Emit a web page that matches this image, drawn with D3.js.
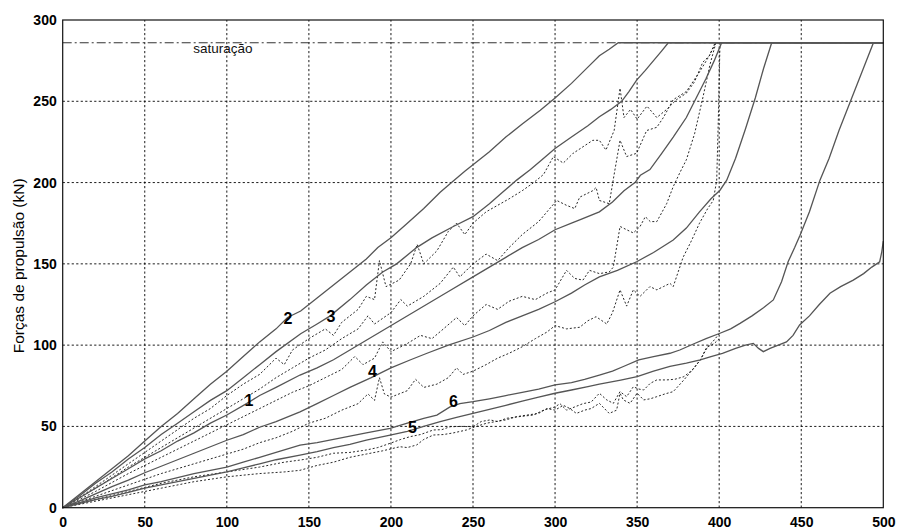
<!DOCTYPE html>
<html><head><meta charset="utf-8">
<script src="https://cdn.jsdelivr.net/npm/d3@7"></script>
<style>body{margin:0;background:#fff}svg{display:block}</style>
</head><body><svg id="c" width="897" height="531"></svg>
<script>
// ---- data ----
const xTicks=[0,50,100,150,200,250,300,350,400,450,500];
const yTicks=[0,50,100,150,200,250,300];
const saturationLevel=286;
const saturationText="saturação";
const yTitle="Forças de propulsão (kN)";
const curveLabels=[
 {t:"1",x:113.5,y:66.3},{t:"2",x:137.3,y:116.7},{t:"3",x:163.5,y:117.5},
 {t:"4",x:188.8,y:83.8},{t:"5",x:213.1,y:49.8},{t:"6",x:238.1,y:65.3}];

// solid curves
const solid2=[[0,0],[10,8],[20,16],[30,24],[40,32],[50,41],[60,50],[70,58],[80,67],[90,76],[100,84],[110,93],[120,102],[130,110],[137,117],[145,121],[155,129],[165,137],[175,145],[185,153],[192,160],[200,166],[210,175],[220,184],[230,194],[238,201],[245,207],[250,211],[260,219],[270,228],[280,236],[291,244.5],[300,252],[310,261],[320,271],[327,278],[333,282],[338.5,286],[500,286]];
const solid3=[[0,0],[10,7],[20,15],[30,22],[40,30],[50,37],[60,45],[70,52],[80,59],[90,66],[100,72],[110,80],[120,88],[130,96],[145,107],[155,113],[163,118],[175,128],[185,137],[195,145],[203.5,150],[215.6,160],[225,166],[238,173],[250,179],[260,187],[268,194],[276.6,201.5],[285,208],[292,214],[300,221],[310,228],[320,235],[327,240.5],[334,245],[340.6,250],[345,256],[349.7,263],[355,269],[360,275],[365,281],[369,286],[500,286]];
const solid1=[[0,0],[10,6],[20,12],[30,18],[40,24],[50,30],[60,35],[70,41],[80,46],[90,52],[100,57],[112,64],[120,69],[130,74],[144.6,81.6],[155,86],[165,91],[175,97],[185,103],[195,109],[205,115],[215,121],[225,127],[235,133],[250,142],[260,148],[270,154],[280,160],[290,165],[300,171],[310,175],[315,177],[327,182],[335,188],[342,195],[348.7,200],[352,204.5],[357.8,208],[365,218],[372,228],[380,240],[386,252],[392,264],[397,275],[401.5,286],[500,286]];
const solid4=[[0,0],[10,4],[20,8.5],[30,13],[40,17],[50,21.5],[60,25.5],[70,29.5],[80,33.5],[90,37.5],[100,41.5],[110,45],[120,49.5],[130,53],[144.6,59],[155,64],[165,69],[175,74],[188,80],[200,86],[212,91],[222,95],[235,100],[250,105],[260,109],[270,114],[280,118],[290,122],[300,126.7],[310,132],[318,137],[327,142],[338,146],[349.7,151.3],[360,157],[372,164.7],[380,172],[388,182],[395,190],[400.5,195.3],[404.6,201.5],[410,215],[416,233],[422,252],[427,270],[432,286],[500,286]];
const solid6=[[0,0],[10,3],[20,6],[30,8.5],[40,11],[50,14],[60,16],[70,18.5],[80,21],[90,23],[100,25],[110,28],[120,31],[130,34],[144.6,38.5],[155,40],[165,42],[175,44],[185,46],[199.5,48.8],[210,52],[220,55],[228,57],[236,62],[242,64],[250,65.2],[260,67],[270,69],[280,71],[290,73],[300,75.5],[310,77],[318,79],[327,81.6],[335,84],[342,87],[351,90.9],[360,93],[370,95],[376,97],[385,101],[392,104],[400.5,107.3],[407,110],[412.7,113.4],[420,118],[427,123],[433,127.8],[438,139],[442,151.3],[446,160],[449.2,167.5],[455,182],[461.4,201.5],[467,215],[473,232],[480,250],[487,268],[494,286],[500,286]];
const solid5=[[0,0],[10,2.5],[20,5],[30,7],[40,9.5],[50,12],[60,14],[70,16],[80,18],[90,20],[100,22],[110,24.5],[120,27],[130,29.5],[144.6,32.4],[155,34.5],[165,37],[175,39],[185,41.5],[199.5,44.7],[210,47],[220,50],[230,53],[240,55.5],[250,58],[260,60.5],[270,63],[280,65.5],[290,68],[300,70.4],[310,72.4],[320,74.5],[327,76],[340,78.5],[350,80.6],[360,84],[370,87],[380,89],[388.5,90.9],[395,93],[402,95],[410,98],[416,100],[420.8,101.1],[424,98],[426.9,96],[431,98],[436,100],[441,102],[445,106],[449,112.4],[455,118],[461,125],[467.5,131.9],[474,136],[481.7,140],[488,144],[493,148],[497.8,151.3],[499,157],[500,164]];

// dotted curves
const dotted1=[[0,0],[10,6],[20,13],[30,20],[40,27],[50,34],[60,41],[70,48],[80,55],[90,61],[100,69],[110,76],[120,82],[130,92],[135,88],[140,97],[150,104],[160,110],[165,106],[170,114],[180,122],[185,130],[190,128],[193,152],[197,136],[205,140],[212,150],[216,162],[220,150],[228,158],[235,170],[240,175],[245,168],[250,175],[258,182],[265,186],[272,190],[280,195],[287,200],[293,205],[299,216],[305,212],[311,218],[317,222],[323,226],[327,226],[331,220],[336,232],[339.6,258],[342,240],[346,245],[350,239],[356,247],[362,240],[368,245],[374,251],[380,255],[385,262],[390,274],[394,278],[397.5,286],[400,286]];
const dotted2=[[0,0],[20,12],[40,25],[60,37],[80,49],[100,61],[110,67],[120,73],[130,80],[140,86],[150,92],[160,97],[170,104],[180,110],[186,118],[190,113],[200,120],[206,128],[210,124],[220,130],[230,138],[238,148],[242,142],[250,150],[258,156],[265,152],[272,160],[280,168],[290,176],[301,189],[307,186],[312,184],[315,191],[319,193],[323,195],[325,197],[327,189],[333,187],[336,205],[339.6,226],[343.6,216],[349.7,218],[355.8,232],[362,234],[366,240],[372,251],[380,256],[388,268],[394,278],[398,286],[400,286]];
const dotted3=[[0,0],[20,10],[40,21],[60,31],[80,41],[100,51],[110,56],[120,61],[130,66],[140,71],[150,75],[160,80],[170,85],[178,93],[183,88],[190,92],[195,102],[200,96],[210,101],[218,106],[225,104],[232,110],[240,117],[245,112],[250,118],[258,125],[265,122],[272,127],[280,130],[288,128],[295,132],[300,134],[307,146],[312,141],[317,140],[321,146],[327,144],[333,145],[335.5,148],[339.6,173],[343.6,171],[347.7,169],[351.8,173],[355,179],[358,176],[362,176],[368,187],[372,197.5],[376,206],[380,214],[385,230],[390,252],[394.5,273],[398,286],[400,286]];
const dotted4=[[0,0],[20,7],[40,14],[60,21],[80,27],[100,33],[110,36],[120,40],[130,43],[140,47],[150,52],[160,55],[170,60],[180,64],[186,70],[190,66],[193,80],[196,70],[200,68],[210,72],[215,79],[220,74],[228,76],[235,80],[240,86],[244,82],[250,84],[258,88],[265,92],[272,95],[280,99],[288,104],[295,108],[300,112],[307,110],[315,111],[320,115],[325,117.5],[331.5,113],[335,120],[339.6,134],[343.6,124],[347.7,134],[351.8,130],[357.8,136],[362,134],[366,136],[370,138],[372,136],[378,154],[383,164],[388,175],[393,184],[396.4,189],[398.5,201.5],[399.5,240],[400.5,286]];
const dotted5=[[0,0],[20,5],[40,10],[60,15],[80,19],[100,22],[120,25],[135,28],[144.6,29.3],[155,31],[165,33.5],[175,34],[185,35.5],[192,37],[199.5,39.6],[206,42],[211.7,43.7],[218,45],[225.8,47.8],[231,48],[236,49.8],[243,50],[250,49.8],[255,53],[260.4,54],[265,53],[270.5,55],[278,56],[286.8,57],[293,60],[300,62],[303,64],[307,60],[312,62],[317,64],[322,65],[327,70.4],[331.5,66.3],[335.5,64.2],[339.6,71.4],[343.6,68.3],[347.7,74.4],[351,73],[354,72.4],[358,76.5],[362,78.6],[368,78.6],[373,79],[378.5,80.6],[384,85],[388.5,90.9],[392,98],[396,102],[400,107]];
const dotted6=[[0,0],[20,4],[40,8],[60,12],[80,16],[100,19],[120,21],[135,22],[144.6,23],[155,26],[165,28],[175,31],[185,33],[195,35],[205.5,37.5],[210,37],[215.7,38.6],[220,42],[225.8,44.7],[232,45],[238,46],[246,47.8],[252,50],[258.4,52],[264,53],[270,54],[276.6,56],[283,57],[290,58],[295,61],[300,60],[305,63],[309,61],[313,58],[318,60],[322,61],[327,64.2],[333,58],[337.5,60],[339.6,70.4],[341.6,66.3],[345.7,64.2],[350,70.4],[354,66.3],[358,67],[362,68.3],[367,70],[372,71.4],[378.5,78.6],[383,84],[388.5,90.9],[393,99],[397,101],[400,104]];

const solidSeries=[solid2,solid3,solid1,solid4,solid6,solid5];
const dottedSeries=[dotted1,dotted2,dotted3,dotted4,dotted5,dotted6];

// ---- drawing ----
const W=897,H=531,m={l:62.7,r:13.7,t:20,b:23.3};
const svg=d3.select("#c");
const x=d3.scaleLinear().domain([0,500]).range([m.l,W-m.r]);
const y=d3.scaleLinear().domain([0,300]).range([H-m.b,m.t]);
const font="'Liberation Sans', Arial, sans-serif";

// grid
const g=svg.append("g");
g.selectAll("line.gx").data(xTicks.slice(1,-1)).join("line")
 .attr("x1",d=>x(d)).attr("x2",d=>x(d)).attr("y1",y(0)).attr("y2",y(300))
 .attr("stroke","#000").attr("stroke-width",0.9).attr("stroke-dasharray","2.2,2.3");
g.selectAll("line.gy").data(yTicks.slice(1,-1)).join("line")
 .attr("y1",d=>y(d)).attr("y2",d=>y(d)).attr("x1",x(0)).attr("x2",x(500))
 .attr("stroke","#000").attr("stroke-width",0.9).attr("stroke-dasharray","2.2,2.3");

// saturation line
svg.append("line").attr("x1",x(0)).attr("x2",x(500)).attr("y1",y(saturationLevel)).attr("y2",y(saturationLevel))
 .attr("stroke","#333").attr("stroke-width",1).attr("stroke-dasharray","9,3,2,3");
svg.append("text").attr("x",x(79.5)).attr("y",y(279.5)).text(saturationText)
 .attr("font-family",font).attr("font-size",13.5).attr("fill","#111");

const line=d3.line().x(d=>x(d[0])).y(d=>y(d[1]));
svg.append("g").selectAll("path").data(dottedSeries).join("path")
 .attr("d",line).attr("fill","none").attr("stroke","#111").attr("stroke-width",0.9).attr("stroke-dasharray","2,2");
svg.append("g").selectAll("path").data(solidSeries).join("path")
 .attr("d",line).attr("fill","none").attr("stroke","#555").attr("stroke-width",1.3);

// frame
svg.append("rect").attr("x",x(0)).attr("y",y(300)).attr("width",x(500)-x(0)).attr("height",y(0)-y(300))
 .attr("fill","none").attr("stroke","#111").attr("stroke-width",1.2);

// axes labels
const xa=svg.append("g").attr("transform",`translate(0,${y(0)})`)
 .call(d3.axisBottom(x).tickValues(xTicks).tickSize(0).tickPadding(9).tickFormat(d3.format("d")));
const ya=svg.append("g").attr("transform",`translate(${x(0)},0)`)
 .call(d3.axisLeft(y).tickValues(yTicks).tickSize(0).tickPadding(6).tickFormat(d3.format("d")));
[xa,ya].forEach(a=>{a.select(".domain").remove();
 a.selectAll("text").attr("font-family",font).attr("font-size",14).attr("font-weight","bold").attr("fill","#000");});

svg.append("text").attr("transform",`translate(24,${(y(0)+y(300))/2+2}) rotate(-90)`)
 .attr("text-anchor","middle").text(yTitle).attr("font-family",font).attr("font-size",15.5).attr("fill","#000");

svg.append("g").selectAll("text").data(curveLabels).join("text")
 .attr("x",d=>x(d.x)).attr("y",d=>y(d.y)).attr("dy","0.36em").attr("text-anchor","middle")
 .text(d=>d.t).attr("font-family",font).attr("font-size",16).attr("font-weight","bold").attr("fill","#000");
</script></body></html>
